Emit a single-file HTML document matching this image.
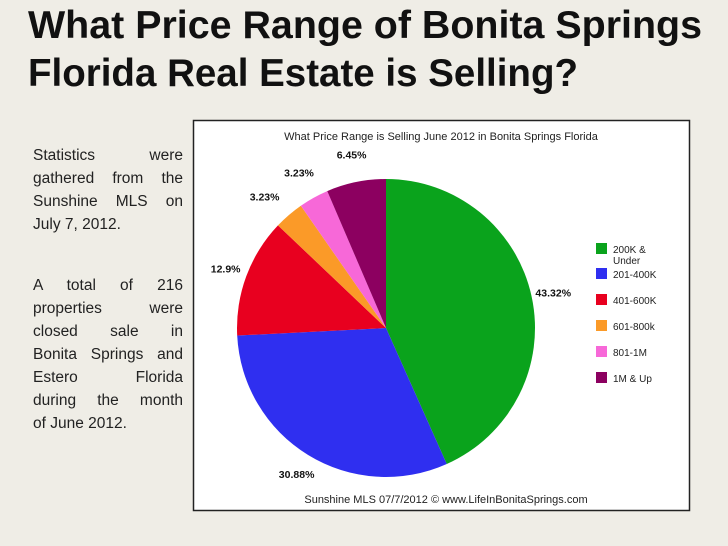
<!DOCTYPE html>
<html><head><meta charset="utf-8"><style>
html,body{margin:0;padding:0;background:#efede6;}
body{position:relative;width:728px;height:546px;overflow:hidden;}
svg{display:block;font-family:"Liberation Sans",sans-serif;}
.body{position:absolute;left:33px;width:150px;font-family:"Liberation Sans",sans-serif;font-size:15.5px;color:#222;}
.body div{height:23px;line-height:23px;white-space:nowrap;}
.j{text-align:justify;text-align-last:justify;white-space:normal!important;}
</style></head><body>
<svg width="728" height="546" viewBox="0 0 728 546" xmlns="http://www.w3.org/2000/svg">
<rect x="0" y="0" width="728" height="546" fill="#efede6"/>
<g font-weight="bold" font-size="39" fill="#111">
<text x="28" y="38" textLength="674" lengthAdjust="spacingAndGlyphs">What Price Range of Bonita Springs</text>
<text x="28" y="86" textLength="550" lengthAdjust="spacingAndGlyphs">Florida Real Estate is Selling?</text>
</g>
<rect x="193.5" y="120.5" width="496" height="390" fill="#fff" stroke="#222" stroke-width="1.5"/>
<text x="441" y="140" text-anchor="middle" font-size="11" fill="#222">What Price Range is Selling June 2012 in Bonita Springs Florida</text>
<g id="pie"></g>
<g id="legend"></g>
<text x="446" y="503" text-anchor="middle" font-size="11" fill="#222">Sunshine MLS 07/7/2012  ©  www.LifeInBonitaSprings.com</text>
</svg>
<div class="body" style="top:144px">
<div class="j">Statistics were</div>
<div class="j">gathered from the</div>
<div class="j">Sunshine MLS on</div>
<div>July 7, 2012.</div>
</div>
<div class="body" style="top:274px">
<div class="j">A total of 216</div>
<div class="j">properties were</div>
<div class="j">closed sale in</div>
<div class="j">Bonita Springs and</div>
<div class="j">Estero Florida</div>
<div class="j">during the month</div>
<div>of June 2012.</div>
</div>
<script>
const categories = ["200K & Under","201-400K","401-600K","601-800k","801-1M","1M & Up"];
const values = [43.32,30.88,12.9,3.23,3.23,6.45];
const labels = ["43.32%","30.88%","12.9%","3.23%","3.23%","6.45%"];
const colors = ["#0aa31c","#2f2ff0","#e8001f","#fb9a28","#f768d8","#8c0060"];
const NS="http://www.w3.org/2000/svg";
const cx=386, cy=328, r=149;
const total=values.reduce((a,b)=>a+b,0);
const pie=document.getElementById('pie');
let a0=0;
values.forEach((v,i)=>{
  const a1=a0+v/total*2*Math.PI;
  const x0=cx+r*Math.sin(a0), y0=cy-r*Math.cos(a0);
  const x1=cx+r*Math.sin(a1), y1=cy-r*Math.cos(a1);
  const p=document.createElementNS(NS,'path');
  p.setAttribute('d',`M${cx},${cy}L${x0},${y0}A${r},${r} 0 ${a1-a0>Math.PI?1:0} 1 ${x1},${y1}Z`);
  p.setAttribute('fill',colors[i]);
  
  
  pie.appendChild(p);
  const am=(a0+a1)/2;
  const t=document.createElementNS(NS,'text');
  let lx=cx+(r+22)*Math.sin(am), ly=cy-(r+22)*Math.cos(am)+4;
  if(i===3){lx-=10;ly-=2;} if(i===4){lx-=4;ly-=6;} if(i===5){ly-=6;}
  t.setAttribute('x',lx); t.setAttribute('y',ly);
  t.setAttribute('text-anchor','middle');
  t.setAttribute('font-size','10.5'); t.setAttribute('font-weight','bold'); t.setAttribute('fill','#111');
  t.textContent=labels[i];
  
  
  pie.appendChild(t);
  a0=a1;
});
const lg=document.getElementById('legend');
const rowsY=[249,274,300,326,352,378];
categories.forEach((c,i)=>{
  const g=document.createElementNS(NS,'g');
  
  
  const s=document.createElementNS(NS,'rect');
  s.setAttribute('x',596); s.setAttribute('y',rowsY[i]-6); s.setAttribute('width',11); s.setAttribute('height',11);
  s.setAttribute('fill',colors[i]);
  g.appendChild(s);
  const t=document.createElementNS(NS,'text');
  t.setAttribute('x',613); t.setAttribute('y',rowsY[i]+4);
  t.setAttribute('font-size','10'); t.setAttribute('fill','#222');
  if(i===0){
    t.innerHTML='<tspan x="613">200K &amp;</tspan><tspan x="613" dy="11">Under</tspan>';
  } else t.textContent=c;
  g.appendChild(t);
  lg.appendChild(g);
});
</script>
</body></html>
